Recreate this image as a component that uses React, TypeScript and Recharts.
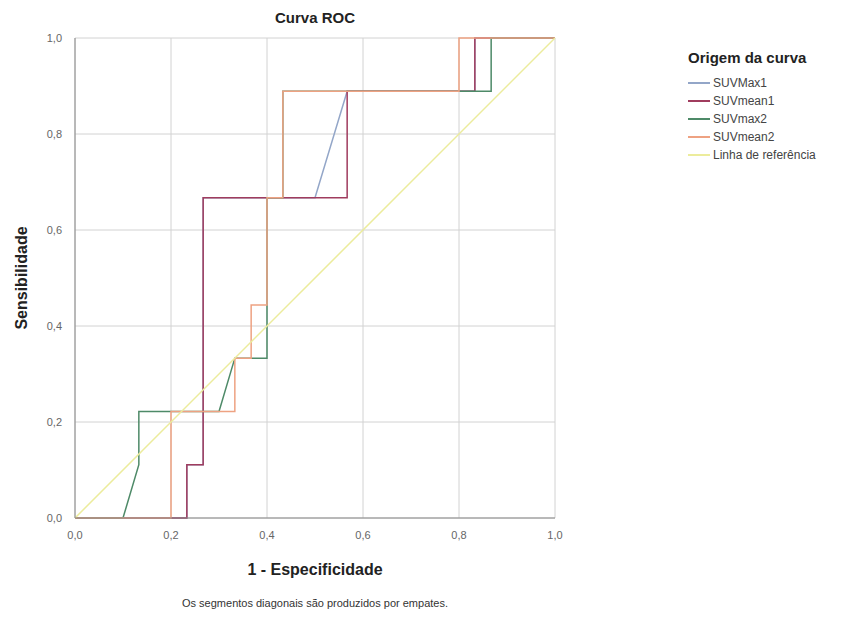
import { LineChart, Line, XAxis, YAxis, CartesianGrid } from 'recharts';

const FONT = '"Liberation Sans", Arial, sans-serif';

// ROC points (1 - specificity, sensitivity)
const suvMax1X = [0, 0.233, 0.233, 0.267, 0.267, 0.5, 0.567, 0.833, 0.833, 1];
const suvMax1Y = [0, 0, 0.111, 0.111, 0.667, 0.667, 0.889, 0.889, 1, 1];

const suvMean1X = [0, 0.233, 0.233, 0.267, 0.267, 0.567, 0.567, 0.833, 0.833, 1];
const suvMean1Y = [0, 0, 0.111, 0.111, 0.667, 0.667, 0.889, 0.889, 1, 1];

const suvMax2X = [0, 0.1, 0.133, 0.133, 0.3, 0.333, 0.4, 0.4, 0.433, 0.433, 0.867, 0.867, 1];
const suvMax2Y = [0, 0, 0.111, 0.222, 0.222, 0.333, 0.333, 0.667, 0.667, 0.889, 0.889, 1, 1];

const suvMean2X = [0, 0.2, 0.2, 0.333, 0.333, 0.367, 0.367, 0.4, 0.4, 0.433, 0.433, 0.8, 0.8, 1];
const suvMean2Y = [0, 0, 0.222, 0.222, 0.333, 0.333, 0.444, 0.444, 0.667, 0.667, 0.889, 0.889, 1, 1];

const refX = [0, 1];
const refY = [0, 1];

const TICKS = [0, 0.2, 0.4, 0.6, 0.8, 1];

const toPoints = (xs: number[], ys: number[]) => xs.map((x, i) => ({ x, y: ys[i] }));

const series = [
  { name: 'SUVMax1', color: '#93a6c8', data: toPoints(suvMax1X, suvMax1Y) },
  { name: 'SUVmean1', color: '#a03c5e', data: toPoints(suvMean1X, suvMean1Y) },
  { name: 'SUVmax2', color: '#4e8a68', data: toPoints(suvMax2X, suvMax2Y) },
  { name: 'SUVmean2', color: '#eea282', data: toPoints(suvMean2X, suvMean2Y) },
  { name: 'Linha de referência', color: '#ecec9c', data: toPoints(refX, refY) },
];

const fmt = (v: number) => v.toFixed(1).replace('.', ',');

const LegendBox = () => (
  <div style={{ position: 'absolute', left: 688, top: 49, fontFamily: FONT }}>
    <div style={{ fontSize: 15, fontWeight: 'bold', color: '#222', marginBottom: 8 }}>
      Origem da curva
    </div>
    {series.map((s) => (
      <div key={s.name} style={{ display: 'flex', alignItems: 'center', height: 18 }}>
        <div style={{ width: 22, height: 2, background: s.color, marginRight: 3 }} />
        <span style={{ fontSize: 12, color: '#444' }}>{s.name}</span>
      </div>
    ))}
  </div>
);

const App = () => {
  return (
    <div style={{ position: 'absolute', left: 0, top: 0, width: 858, height: 621, background: '#fff' }}>
      <div
        style={{
          position: 'absolute',
          left: 75,
          width: 480,
          top: 9,
          textAlign: 'center',
          fontFamily: FONT,
          fontWeight: 'bold',
          fontSize: 15,
          color: '#222',
        }}
      >
        Curva ROC
      </div>
      <LineChart width={858} height={621} margin={{ top: 38, right: 303, bottom: 73, left: 35 }}>
        <CartesianGrid stroke="#d2d2d2" strokeWidth={1} />
        <XAxis
          dataKey="x"
          type="number"
          domain={[0, 1]}
          ticks={TICKS}
          tickFormatter={fmt}
          height={30}
          stroke="#888"
          tickLine={false}
          tickMargin={7}
          tick={{ fontSize: 11, fill: '#666', fontFamily: FONT }}
          allowDuplicatedCategory={false}
        />
        <YAxis
          dataKey="y"
          type="number"
          domain={[0, 1]}
          ticks={TICKS}
          tickFormatter={fmt}
          width={40}
          stroke="#888"
          tickLine={false}
          tickMargin={7}
          tick={{ fontSize: 11, fill: '#666', fontFamily: FONT }}
        />
        {series.map((s) => (
          <Line
            key={s.name}
            data={s.data}
            dataKey="y"
            name={s.name}
            type="linear"
            stroke={s.color}
            strokeWidth={1.5}
            dot={false}
            activeDot={false}
            isAnimationActive={false}
          />
        ))}
      </LineChart>
      <LegendBox />
      <div
        style={{
          position: 'absolute',
          left: 75,
          width: 480,
          top: 561,
          textAlign: 'center',
          fontFamily: FONT,
          fontWeight: 'bold',
          fontSize: 16,
          color: '#222',
        }}
      >
        1 - Especificidade
      </div>
      <div
        style={{
          position: 'absolute',
          left: 12,
          top: 278,
          transform: 'translate(-50%, -50%) rotate(-90deg) translateY(10px)',
          fontFamily: FONT,
          fontWeight: 'bold',
          fontSize: 16,
          color: '#222',
          whiteSpace: 'nowrap',
        }}
      >
        Sensibilidade
      </div>
      <div
        style={{
          position: 'absolute',
          left: 75,
          width: 480,
          top: 597,
          textAlign: 'center',
          fontFamily: FONT,
          fontSize: 11,
          color: '#333',
        }}
      >
        Os segmentos diagonais são produzidos por empates.
      </div>
    </div>
  );
};

export default App;
